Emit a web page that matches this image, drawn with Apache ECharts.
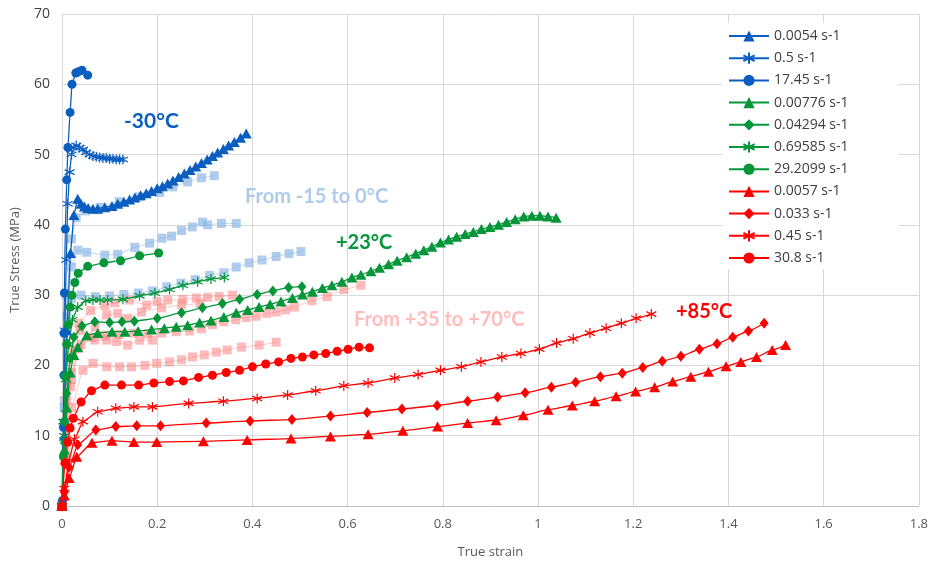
<!DOCTYPE html>
<html><head><meta charset="utf-8">
<script src="https://cdn.jsdelivr.net/npm/echarts@6/dist/echarts.min.js"></script>
<style>html,body{margin:0;padding:0;background:#fff}#c{width:931px;height:564px}</style>
</head><body><div id="c"></div>
<script>
// ---- Data: [true strain, true stress (MPa)] ----
const xMin = 0, xMax = 1.8, xStep = 0.2;
const yMin = 0, yMax = 70, yStep = 10;

// -30°C (blue)
const b_0054 = [[0,0],[0.005,10],[0.01,25],[0.018,36],[0.025,41.4],[0.033,43.7],[0.04,43],[0.047,42.6],[0.055,42.4],[0.065,42.3],[0.075,42.3],[0.09,42.5],[0.105,42.7],[0.117,43.0],[0.13,43.3],[0.142,43.6],[0.153,43.9],[0.165,44.2],[0.177,44.5],[0.188,44.8],[0.2,45.2],[0.211,45.5],[0.222,45.9],[0.233,46.3],[0.245,46.8],[0.257,47.3],[0.269,47.8],[0.281,48.3],[0.293,48.8],[0.305,49.3],[0.316,49.8],[0.327,50.3],[0.339,50.8],[0.35,51.3],[0.362,51.8],[0.375,52.4],[0.387,53.0]];
const b_05 = [[0,0],[0.003,12],[0.006,25],[0.009,35],[0.012,43],[0.016,47.5],[0.02,50],[0.025,51],[0.03,51.3],[0.037,51],[0.044,50.7],[0.051,50.3],[0.058,50],[0.065,49.8],[0.072,49.7],[0.079,49.6],[0.086,49.5],[0.093,49.5],[0.1,49.4],[0.107,49.4],[0.114,49.3],[0.121,49.3],[0.128,49.3]];
const b_1745 = [[0.001,0.8],[0.003,11.2],[0.004,18.6],[0.004,24.6],[0.005,30.3],[0.007,39.4],[0.01,46.4],[0.0125,51],[0.017,56],[0.021,60],[0.029,61.6],[0.035,61.8],[0.042,62],[0.054,61.3]];

// +23°C (green)
const g_00776 = [[0,0],[0.005,8],[0.01,14],[0.017,19],[0.025,21.5],[0.033,22.6],[0.052,24.3],[0.075,24.6],[0.105,24.8],[0.132,24.8],[0.16,24.9],[0.188,25.1],[0.215,25.3],[0.24,25.5],[0.264,25.7],[0.289,26.1],[0.313,26.4],[0.34,26.9],[0.366,27.5],[0.39,27.9],[0.414,28.3],[0.437,28.7],[0.46,29.1],[0.484,29.6],[0.505,30.1],[0.526,30.5],[0.547,31],[0.567,31.4],[0.588,31.9],[0.609,32.5],[0.628,32.9],[0.649,33.4],[0.667,33.9],[0.686,34.4],[0.704,34.9],[0.724,35.4],[0.743,35.9],[0.76,36.4],[0.777,36.9],[0.795,37.5],[0.812,37.9],[0.829,38.3],[0.847,38.7],[0.864,39.0],[0.881,39.4],[0.899,39.7],[0.917,40.0],[0.934,40.4],[0.952,40.8],[0.97,41.2],[0.987,41.3],[1.004,41.3],[1.021,41.2],[1.038,41.0]];
const g_04294 = [[0,0],[0.005,9],[0.01,16],[0.017,21],[0.025,24],[0.042,25.6],[0.069,26.2],[0.1,26.1],[0.126,26.2],[0.152,26.3],[0.2,26.7],[0.251,27.5],[0.295,28.2],[0.337,28.8],[0.373,29.4],[0.41,30.1],[0.443,30.6],[0.476,31.1],[0.504,31.2]];
const g_69585 = [[0,0],[0.004,10],[0.008,18],[0.014,23],[0.022,26.5],[0.033,28.3],[0.05,29.2],[0.065,29.3],[0.08,29.3],[0.096,29.3],[0.128,29.4],[0.163,29.9],[0.195,30.3],[0.226,30.8],[0.254,31.4],[0.285,31.9],[0.313,32.3],[0.341,32.5]];
const g_292099 = [[0,0],[0.003,7],[0.005,12],[0.007,18.5],[0.01,23],[0.013,25.8],[0.017,28.3],[0.021,30],[0.027,31.8],[0.034,33.1],[0.054,34.1],[0.088,34.6],[0.123,34.9],[0.163,35.6],[0.203,36]];

// +85°C (red)
const r_0057 = [[0,0],[0.005,1.5],[0.015,4],[0.031,7],[0.063,9],[0.105,9.3],[0.151,9.1],[0.199,9.1],[0.297,9.2],[0.389,9.4],[0.481,9.6],[0.564,9.9],[0.643,10.2],[0.716,10.7],[0.789,11.3],[0.852,11.8],[0.912,12.2],[0.969,12.9],[1.021,13.7],[1.072,14.3],[1.119,14.9],[1.164,15.6],[1.205,16.3],[1.245,16.9],[1.283,17.7],[1.321,18.4],[1.358,19.1],[1.395,19.9],[1.426,20.5],[1.459,21.2],[1.492,22.2],[1.52,22.9]];
const r_033 = [[0,0],[0.005,2],[0.015,5.5],[0.033,8.7],[0.071,10.8],[0.113,11.3],[0.157,11.4],[0.207,11.4],[0.303,11.8],[0.395,12.1],[0.483,12.3],[0.564,12.8],[0.641,13.3],[0.714,13.8],[0.788,14.3],[0.852,14.9],[0.915,15.5],[0.973,16.1],[1.028,16.9],[1.079,17.6],[1.131,18.4],[1.177,18.9],[1.22,19.7],[1.261,20.6],[1.3,21.3],[1.339,22.3],[1.376,23.1],[1.409,24],[1.442,24.9],[1.475,26]];
const r_045 = [[0,0],[0.005,2.5],[0.015,6.5],[0.026,9.5],[0.044,12],[0.075,13.4],[0.113,13.9],[0.151,14.1],[0.19,14.1],[0.266,14.6],[0.339,14.9],[0.41,15.3],[0.474,15.8],[0.533,16.4],[0.592,17.1],[0.643,17.5],[0.699,18.2],[0.748,18.7],[0.795,19.3],[0.839,19.8],[0.88,20.5],[0.924,21.2],[0.964,21.7],[1.003,22.3],[1.039,23.2],[1.074,23.8],[1.109,24.6],[1.143,25.3],[1.175,26],[1.206,26.7],[1.238,27.3]];
const r_308 = [[0,0],[0.006,6.1],[0.012,9.1],[0.017,11.1],[0.024,12.5],[0.04,14.8],[0.062,16.4],[0.09,17.2],[0.125,17.2],[0.161,17.2],[0.193,17.5],[0.226,17.7],[0.255,17.8],[0.287,18.3],[0.316,18.6],[0.345,19.0],[0.373,19.3],[0.4,19.8],[0.428,20.2],[0.455,20.5],[0.481,21.0],[0.505,21.2],[0.529,21.5],[0.554,21.7],[0.578,22.0],[0.601,22.3],[0.624,22.6],[0.646,22.5]];

// From -15 to 0°C (pale blue squares)
const pb_A = [[0,0],[0.005,15],[0.01,30],[0.02,38],[0.03,41],[0.05,42],[0.08,42.5],[0.12,43.3],[0.163,44],[0.205,44.6],[0.233,45.4],[0.264,46.1],[0.293,46.7],[0.32,47]];
const pb_B = [[0,0],[0.005,14],[0.01,27],[0.02,34],[0.033,36.4],[0.052,36.1],[0.09,35.7],[0.117,35.8],[0.153,36.8],[0.184,37.4],[0.21,38.1],[0.23,38.4],[0.251,39.2],[0.274,39.7],[0.295,40.4],[0.306,40],[0.335,40.2],[0.366,40.2]];
const pb_C = [[0,0],[0.005,14],[0.01,25],[0.02,29.5],[0.04,30],[0.07,29.8],[0.1,29.9],[0.13,30.1],[0.16,30.3],[0.19,30.6],[0.22,31.2],[0.25,31.7],[0.28,32.2],[0.31,32.8],[0.34,33.2],[0.366,34],[0.393,34.6],[0.42,35],[0.45,35.5],[0.477,35.9],[0.502,36.2]];

// From +35 to +70°C (pale red squares)
const pr_1 = [[0,0],[0.01,15],[0.02,22],[0.035,26],[0.06,27.8],[0.09,28.5],[0.111,28.9],[0.142,29.3],[0.178,28.6],[0.2,29.1],[0.222,29.3],[0.254,29.4],[0.282,29.6],[0.306,29.7],[0.33,29.8],[0.358,30]];
const pr_2 = [[0,0],[0.01,13],[0.02,19],[0.035,22.5],[0.06,24],[0.09,24.3],[0.12,24.4],[0.15,24.6],[0.18,24.5],[0.21,24.6],[0.24,24.8],[0.268,24.9],[0.293,25.2],[0.316,25.8],[0.34,26.2],[0.365,26.5],[0.387,26.8],[0.408,27],[0.43,27.4],[0.45,27.6],[0.47,27.9],[0.488,28.3],[0.525,29.2],[0.557,29.8],[0.592,30.8],[0.628,31.4]];
const pr_3 = [[0,0],[0.01,12],[0.02,18],[0.04,23],[0.07,25.5],[0.094,27.2],[0.117,27.4],[0.138,26.7],[0.167,27.6],[0.209,28.2],[0.251,28.6],[0.29,28.8]];
const pr_4 = [[0,0],[0.008,10],[0.018,17],[0.038,25],[0.069,23.6],[0.094,23.6],[0.115,23.4],[0.138,22.9],[0.163,23.6],[0.19,23.6]];
const pr_5 = [[0,0],[0.008,8],[0.02,14],[0.044,19.3],[0.065,20.3],[0.094,19.8],[0.121,19.8],[0.146,19.8],[0.174,20],[0.199,20.3],[0.226,20.5],[0.251,20.8],[0.274,21.2],[0.299,21.5],[0.324,21.9],[0.347,22.2],[0.377,22.6],[0.414,22.9],[0.45,23.3]];

const legendNames = ['0.0054 s-1','0.5 s-1','17.45 s-1','0.00776 s-1','0.04294 s-1','0.69585 s-1','29.2099 s-1','0.0057 s-1','0.033 s-1','0.45 s-1','30.8 s-1'];

// ---- Styles ----
const BLUE = '#0A5EC0', GREEN = '#05963A', RED = '#FF0000';
const PALE_BLUE = 'rgba(140,182,228,0.68)', PALE_RED = 'rgba(255,120,120,0.5)';
const STAR = 'path://M5,0L5,10M0.67,2.5L9.33,7.5M0.67,7.5L9.33,2.5';

function sym(kind){
  return {tri:['triangle',[11,10]], star:[STAR,[10,10]], circ:['circle',9], dia:['diamond',[9,11]], sq:['rect',9]}[kind];
}
function mk(name, data, color, kind, opts){
  opts = opts || {};
  const s = sym(kind);
  return {
    name, type:'line', data, symbol:s[0], symbolSize:s[1], showSymbol:true,
    smooth: 0.15, smoothMonotone:'x', z: opts.z || 3,
    lineStyle:{color, width: opts.lw || 1.3},
    itemStyle:{color, borderColor: kind==='star'?color:'transparent', borderWidth: kind==='star'?1.2:0},
    emphasis:{disabled:true}, animation:false
  };
}

const series = [
  mk('pb_A', pb_A, PALE_BLUE, 'sq', {z:1, lw:0.8}),
  mk('pb_B', pb_B, PALE_BLUE, 'sq', {z:1, lw:0.8}),
  mk('pb_C', pb_C, PALE_BLUE, 'sq', {z:1, lw:0.8}),
  mk('pr_1', pr_1, PALE_RED, 'sq', {z:1, lw:0.8}),
  mk('pr_2', pr_2, PALE_RED, 'sq', {z:1, lw:0.8}),
  mk('pr_3', pr_3, PALE_RED, 'sq', {z:1, lw:0.8}),
  mk('pr_4', pr_4, PALE_RED, 'sq', {z:1, lw:0.8}),
  mk('pr_5', pr_5, PALE_RED, 'sq', {z:1, lw:0.8}),
  mk(legendNames[0], b_0054, BLUE, 'tri'),
  mk(legendNames[1], b_05, BLUE, 'star'),
  mk(legendNames[2], b_1745, BLUE, 'circ'),
  mk(legendNames[3], g_00776, GREEN, 'tri'),
  mk(legendNames[4], g_04294, GREEN, 'dia'),
  mk(legendNames[5], g_69585, GREEN, 'star'),
  mk(legendNames[6], g_292099, GREEN, 'circ'),
  mk(legendNames[7], r_0057, RED, 'tri'),
  mk(legendNames[8], r_033, RED, 'dia'),
  mk(legendNames[9], r_045, RED, 'star'),
  mk(legendNames[10], r_308, RED, 'circ')
];

const AX = '#595959', GRID = '#D9D9D9';
const notes = [
  {text:'-30°C', x:124, y:121, fill:BLUE, size:21},
  {text:'From -15 to 0°C', x:245, y:197, fill:'#AECBEC', size:20},
  {text:'+23°C', x:336, y:243, fill:GREEN, size:20},
  {text:'From +35 to +70°C', x:354, y:320, fill:'#FFBDBD', size:20},
  {text:'+85°C', x:676, y:312, fill:RED, size:20}
];

const chart = echarts.init(document.getElementById('c'), null, {renderer:'canvas'});
chart.setOption({
  animation:false,
  backgroundColor:'#fff',
  grid:{left:62, right:9, top:14, bottom:58, containLabel:false},
  xAxis:{
    type:'value', min:xMin, max:xMax, interval:xStep,
    name:'True strain', nameLocation:'middle', nameGap:40,
    nameTextStyle:{color:AX, fontSize:13, fontFamily:'Liberation Sans Narrow, Open Sans, sans-serif'},
    axisLine:{show:true, lineStyle:{color:'#BFBFBF', width:1}},
    axisTick:{show:false},
    axisLabel:{color:AX, fontSize:13, margin:12, fontFamily:'Liberation Sans Narrow, Open Sans, sans-serif'},
    splitLine:{show:true, lineStyle:{color:GRID, width:1}}
  },
  yAxis:{
    type:'value', min:yMin, max:yMax, interval:yStep,
    name:'True Stress (MPa)', nameLocation:'middle', nameGap:40,
    nameTextStyle:{color:AX, fontSize:13, fontFamily:'Liberation Sans Narrow, Open Sans, sans-serif'},
    axisLine:{show:false}, axisTick:{show:false},
    axisLabel:{color:'#404040', fontSize:14, margin:12, fontFamily:'Liberation Sans Narrow, Open Sans, sans-serif'},
    splitLine:{show:true, lineStyle:{color:GRID, width:1}}
  },
  legend:{
    data:legendNames, orient:'vertical', left:722, top:23,
    itemWidth:40, itemHeight:14, itemGap:8.2,
    padding:[6,50,4,6], backgroundColor:'#fff',
    textStyle:{color:'#404040', fontSize:14, fontFamily:'Open Sans, sans-serif', lineHeight:14},
    selectedMode:false
  },
  graphic: notes.map(n => ({
    type:'text', z:100,
    style:{text:n.text, x:n.x, y:n.y, fill:n.fill, verticalAlign:'middle', align:'left',
      font:'bold ' + n.size + 'px Lato, sans-serif'}
  })),
  series
});
</script>
</body></html>
